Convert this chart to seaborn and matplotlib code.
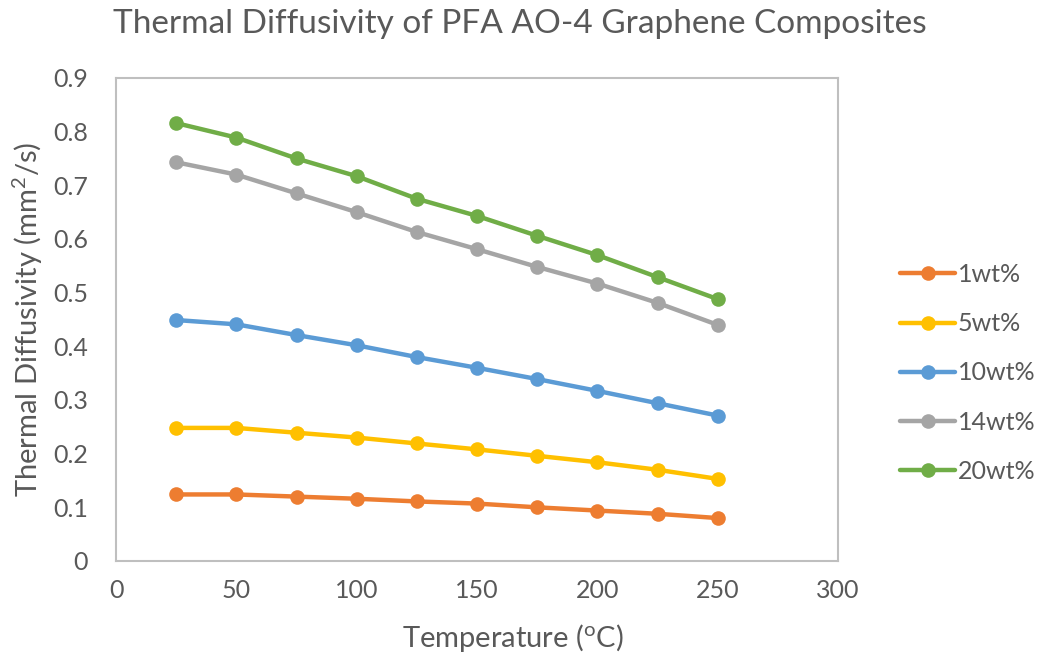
import matplotlib
matplotlib.use("Agg")
import matplotlib.pyplot as plt
import seaborn as sns
import pandas as pd

temperature = [25, 50, 75, 100, 125, 150, 175, 200, 225, 250]
wt1 = [0.124, 0.124, 0.120, 0.116, 0.111, 0.107, 0.100, 0.094, 0.088, 0.080]
wt5 = [0.248, 0.248, 0.239, 0.230, 0.219, 0.208, 0.196, 0.184, 0.170, 0.153]
wt10 = [0.449, 0.441, 0.421, 0.402, 0.380, 0.360, 0.339, 0.317, 0.294, 0.271]
wt14 = [0.743, 0.720, 0.685, 0.650, 0.613, 0.581, 0.548, 0.517, 0.481, 0.440]
wt20 = [0.816, 0.789, 0.750, 0.717, 0.675, 0.643, 0.606, 0.570, 0.529, 0.488]
series_names = ["1wt%", "5wt%", "10wt%", "14wt%", "20wt%"]
colors = ["#ED7D31", "#FFC000", "#5B9BD5", "#A5A5A5", "#70AD47"]
x_ticks = [0, 50, 100, 150, 200, 250, 300]
y_ticks = [0, 0.1, 0.2, 0.3, 0.4, 0.5, 0.6, 0.7, 0.8, 0.9]

rows = []
for name, vals in zip(series_names, [wt1, wt5, wt10, wt14, wt20]):
    for t, v in zip(temperature, vals):
        rows.append({"Temperature": t, "Diffusivity": v, "Series": name})
df = pd.DataFrame(rows)

sns.set_theme(style="white")
plt.rcParams["font.family"] = ["Lato", "DejaVu Sans"]
plt.rcParams["mathtext.default"] = "regular"
txt = "#595959"

W, H = 1047, 661
fig = plt.figure(figsize=(W / 100, H / 100), dpi=100)
ax = fig.add_axes([116 / W, 1 - 561 / H, (838 - 116) / W, (561 - 78) / H])

sns.lineplot(data=df, x="Temperature", y="Diffusivity", hue="Series",
             hue_order=series_names, palette=colors, marker="o",
             markersize=10.5, markeredgewidth=0, linewidth=3.2, ax=ax)

ax.set_xlim(0, 300)
ax.set_ylim(0, 0.9)
ax.set_xticks(x_ticks)
ax.set_yticks(y_ticks)
ax.set_xticklabels([str(v) for v in x_ticks])
ax.set_yticklabels(["0" if v == 0 else f"{v:g}" for v in y_ticks])
ax.tick_params(axis="both", length=0, labelsize=18, labelcolor=txt)
ax.tick_params(axis="x", pad=13)
ax.tick_params(axis="y", pad=20)
for s in ax.spines.values():
    s.set_color("#BFBFBF")
    s.set_linewidth(1.5)
ax.grid(False)

ax.set_xlabel("")
ax.set_ylabel("Thermal Diffusivity (mm$^{2}$/s)", fontsize=21, color=txt, labelpad=6)
fig.text(513 / W, 1 - 638 / H, "Temperature ($^{o}$C)", ha="center", va="center",
         fontsize=21, color=txt)
fig.text(520 / W, 1 - 24 / H, "Thermal Diffusivity of PFA AO-4 Graphene Composites",
         ha="center", va="center", fontsize=24, color=txt)

ax.legend_.remove()
handles, labels = ax.get_legend_handles_labels()
leg = fig.legend(handles, labels, loc="center left", bbox_to_anchor=(900 / W, 1 - 373 / H),
                 frameon=False, fontsize=18, handlelength=2.2, handletextpad=0.12,
                 labelspacing=1.05, borderpad=0, borderaxespad=0, labelcolor=txt)

fig.savefig("out.png", dpi=100, facecolor="white")
